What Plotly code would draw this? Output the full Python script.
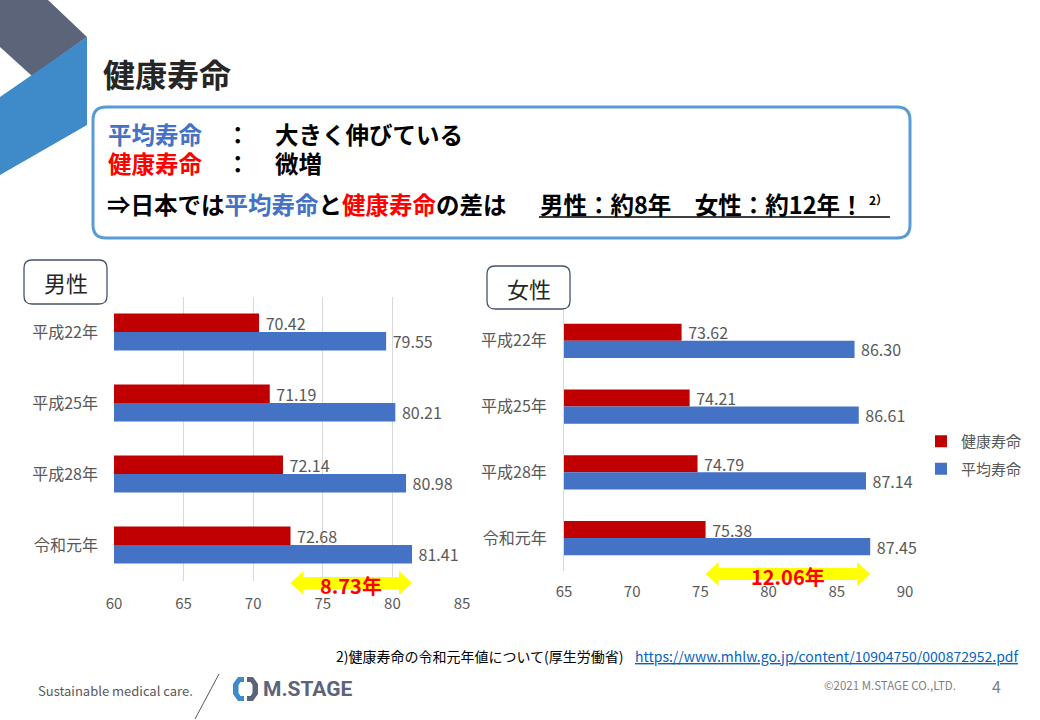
import plotly.graph_objects as go

# ---------------- data ----------------
categories = ["平成22年", "平成25年", "平成28年", "令和元年"]
series_names = ["健康寿命", "平均寿命"]
male_healthy = [70.42, 71.19, 72.14, 72.68]
male_average = [79.55, 80.21, 80.98, 81.41]
female_healthy = [73.62, 74.21, 74.79, 75.38]
female_average = [86.30, 86.61, 87.14, 87.45]
male_ticks = [60, 65, 70, 75, 80, 85]
female_ticks = [65, 70, 75, 80, 85, 90]
gap_labels = ["8.73年", "12.06年"]

# ---------------- helpers ----------------
W, H = 1040, 720
FONT = "Noto Sans CJK JP"
GRAY = "#595959"
RED_BAR = "#c00000"
BLUE_BAR = "#4472c4"


def px(x):
    return x / W


def py(y):
    return 1 - y / H


def poly(points):
    return "M " + " L ".join(f"{px(x):.5f},{py(y):.5f}" for x, y in points) + " Z"


def rounded(x0, y0, x1, y1, r):
    p = [
        f"M {px(x0 + r):.5f},{py(y0):.5f}",
        f"L {px(x1 - r):.5f},{py(y0):.5f}",
        f"Q {px(x1):.5f},{py(y0):.5f} {px(x1):.5f},{py(y0 + r):.5f}",
        f"L {px(x1):.5f},{py(y1 - r):.5f}",
        f"Q {px(x1):.5f},{py(y1):.5f} {px(x1 - r):.5f},{py(y1):.5f}",
        f"L {px(x0 + r):.5f},{py(y1):.5f}",
        f"Q {px(x0):.5f},{py(y1):.5f} {px(x0):.5f},{py(y1 - r):.5f}",
        f"L {px(x0):.5f},{py(y0 + r):.5f}",
        f"Q {px(x0):.5f},{py(y0):.5f} {px(x0 + r):.5f},{py(y0):.5f} Z",
    ]
    return " ".join(p)


def arrow(x0, x1, yc, scale):
    hl = 13 / scale
    pts = [(x0, yc), (x0 + hl, yc - 12), (x0 + hl, yc - 6), (x1 - hl, yc - 6),
           (x1 - hl, yc - 12), (x1, yc), (x1 - hl, yc + 12), (x1 - hl, yc + 6),
           (x0 + hl, yc + 6), (x0 + hl, yc + 12)]
    return "M " + " L ".join(f"{x:.4f},{py(y):.5f}" for x, y in pts) + " Z"


fig = go.Figure()

panels = [
    (male_healthy, male_average, "x", "y", True),
    (female_healthy, female_average, "x2", "y2", False),
]
for healthy, average, xa, ya, show in panels:
    for name, vals, col in [(series_names[0], healthy, RED_BAR),
                            (series_names[1], average, BLUE_BAR)]:
        fig.add_trace(go.Bar(
            y=categories, x=vals, orientation="h", name=name,
            marker=dict(color=col, line=dict(width=0)),
            text=vals, texttemplate="\u00a0%{x:.2f}", textposition="outside",
            textfont=dict(family=FONT, size=16, color=GRAY),
            constraintext="none", cliponaxis=False,
            xaxis=xa, yaxis=ya, showlegend=show, legendgroup=name,
        ))

axis_font = dict(family=FONT, size=15, color=GRAY)
cat_font = dict(family=FONT, size=16, color=GRAY)
fig.update_layout(
    width=W, height=H, margin=dict(l=0, r=0, t=0, b=0, autoexpand=False),
    paper_bgcolor="white", plot_bgcolor="white",
    barmode="group", bargap=0.48, bargroupgap=0,
    font=dict(family=FONT, color=GRAY),
    xaxis=dict(domain=[px(114), px(462)], range=[60, 85], tickvals=male_ticks,
               showgrid=True, gridcolor="#d9d9d9", gridwidth=1, zeroline=False,
               showline=False, ticks="", tickfont=axis_font, anchor="y",
               ticklabelstandoff=12, fixedrange=True),
    yaxis=dict(domain=[py(580.5), py(296.5)], categoryorder="array",
               categoryarray=categories, autorange="reversed", showgrid=False,
               zeroline=False, showline=False, ticks="", tickfont=cat_font,
               anchor="x", ticklabelstandoff=15, fixedrange=True),
    xaxis2=dict(domain=[px(564), px(905)], range=[65, 90], tickvals=female_ticks,
                showgrid=False, zeroline=False, showline=False, ticks="",
                tickfont=axis_font, anchor="y2", ticklabelstandoff=10, fixedrange=True),
    yaxis2=dict(domain=[py(571), py(308)], categoryorder="array",
                categoryarray=categories, autorange="reversed", showgrid=False,
                zeroline=False, showline=True, linecolor="#d9d9d9", linewidth=1,
                ticks="", tickfont=cat_font, anchor="x2", ticklabelstandoff=13,
                fixedrange=True),
    legend=dict(x=px(921), y=py(425), xanchor="left", yanchor="top",
                font=dict(family=FONT, size=15, color=GRAY),
                bgcolor="rgba(0,0,0,0)", traceorder="grouped", tracegroupgap=5,
                itemclick=False, itemwidth=30),
)

shapes = []
# corner decoration
shapes.append(dict(type="path", xref="paper", yref="paper",
                   path=poly([(0, 0), (48, 0), (87, 37), (32, 76), (0, 47)]),
                   fillcolor="#5b6479", line=dict(width=0), layer="above"))
shapes.append(dict(type="path", xref="paper", yref="paper",
                   path=poly([(0, 97), (87, 37), (87, 125), (0, 175)]),
                   fillcolor="#3f8ac8", line=dict(width=0), layer="above"))
# info box
shapes.append(dict(type="path", xref="paper", yref="paper",
                   path=rounded(93, 107, 910, 238, 13),
                   fillcolor="white", line=dict(color="#5b9bd5", width=3), layer="below"))
# panel labels
shapes.append(dict(type="path", xref="paper", yref="paper",
                   path=rounded(24, 260, 107, 304, 8),
                   fillcolor="white", line=dict(color="#44546a", width=1.3), layer="above"))
shapes.append(dict(type="path", xref="paper", yref="paper",
                   path=rounded(487, 266, 570, 309, 8),
                   fillcolor="white", line=dict(color="#44546a", width=1.3), layer="above"))
# gap arrows
shapes.append(dict(type="path", xref="x", yref="paper",
                   path=arrow(male_healthy[-1], male_average[-1], 583, 13.92),
                   fillcolor="#ffff00", line=dict(width=0), layer="above"))
shapes.append(dict(type="path", xref="x2", yref="paper",
                   path=arrow(female_healthy[-1], female_average[-1], 574, 13.64),
                   fillcolor="#ffff00", line=dict(width=0), layer="above"))
# underline of the key sentence
shapes.append(dict(type="line", xref="paper", yref="paper",
                   x0=px(539), y0=py(217), x1=px(890), y1=py(217),
                   line=dict(color="#000000", width=1.5)))
# footer slash
shapes.append(dict(type="line", xref="paper", yref="paper",
                   x0=px(219), y0=py(674), x1=px(195), y1=py(719),
                   line=dict(color="#595959", width=1)))
# logo icon
shapes.append(dict(type="path", xref="paper", yref="paper",
                   path=poly([(244, 677), (238, 677), (233, 684), (233, 694), (238, 701),
                              (244, 701), (244, 696), (240.5, 696), (238.5, 693),
                              (238.5, 685), (240.5, 682), (244, 682)]),
                   fillcolor="#3f8ac8", line=dict(width=0)))
shapes.append(dict(type="path", xref="paper", yref="paper",
                   path=poly([(247, 677), (253, 677), (258, 684), (258, 694), (253, 701),
                              (247, 701), (247, 696), (250.5, 696), (252.5, 693),
                              (252.5, 685), (250.5, 682), (247, 682)]),
                   fillcolor="#5b6479", line=dict(width=0)))
fig.update_layout(shapes=shapes)

ann = []


def text(t, x, y, size, color, anchor="left", bold=False, family=FONT, **kw):
    ann.append(dict(text=(f"<b>{t}</b>" if bold else t), x=px(x), y=py(y),
                    xref="paper", yref="paper", xanchor=anchor, yanchor="middle",
                    showarrow=False, font=dict(family=family, size=size, color=color), **kw))


BLUE_T = "#4472c4"
RED_T = "#ff0000"
text("健康寿命", 101, 73, 32, "#262626", bold=True)
text("平均寿命", 106, 134, 23.5, BLUE_T, bold=True)
text("：", 238, 134, 23.5, "#000000", anchor="center", bold=True)
text("大きく伸びている", 273, 134, 23.5, "#000000", bold=True)
text("健康寿命", 106, 163, 23.5, RED_T, bold=True)
text("：", 238, 163, 23.5, "#000000", anchor="center", bold=True)
text("微増", 273, 163, 23.5, "#000000", bold=True)
text(f"⇒日本では<span style='color:{BLUE_T}'>平均寿命</span>と"
     f"<span style='color:{RED_T}'>健康寿命</span>の差は",
     105, 204, 23.5, "#000000", bold=True)
text("男性：約8年　女性：約12年！", 538, 204, 23.5, "#000000", bold=True)
text("2）", 867, 199, 12, "#000000", bold=True)
text("男性", 65.5, 282, 22, "#262626", anchor="center")
text("女性", 528.5, 287.5, 22, "#262626", anchor="center")

# gap labels centred on the arrows (data coordinates)
for lab, h, a, xr, yy in [(gap_labels[0], male_healthy[-1], male_average[-1], "x", 585),
                          (gap_labels[1], female_healthy[-1], female_average[-1], "x2", 576)]:
    ann.append(dict(text=f"<b>{lab}</b>", x=(h + a) / 2, y=py(yy), xref=xr, yref="paper",
                    xanchor="center", yanchor="middle", showarrow=False,
                    font=dict(family=FONT, size=20, color=RED_T)))

text("2)健康寿命の令和元年値について(厚生労働省)", 626, 656, 14, "#000000", anchor="right")
text("<u>https://www.mhlw.go.jp/content/10904750/000872952.pdf</u>", 1021, 656, 14,
     "#0563c1", anchor="right")
text("Sustainable medical care.", 36, 690, 13, GRAY)
text("<b>M.STAGE</b>", 261, 689, 21, "#5b6479", family="Roboto")
text("©2021 M.STAGE CO.,LTD.", 822, 685, 11.5, "#7f7f7f")
text("4", 996, 686, 16, "#7f7f7f", anchor="center")
fig.update_layout(annotations=ann)

fig.write_html("out.html", post_script="document.body.style.margin='0';",
               config={"displayModeBar": False})
